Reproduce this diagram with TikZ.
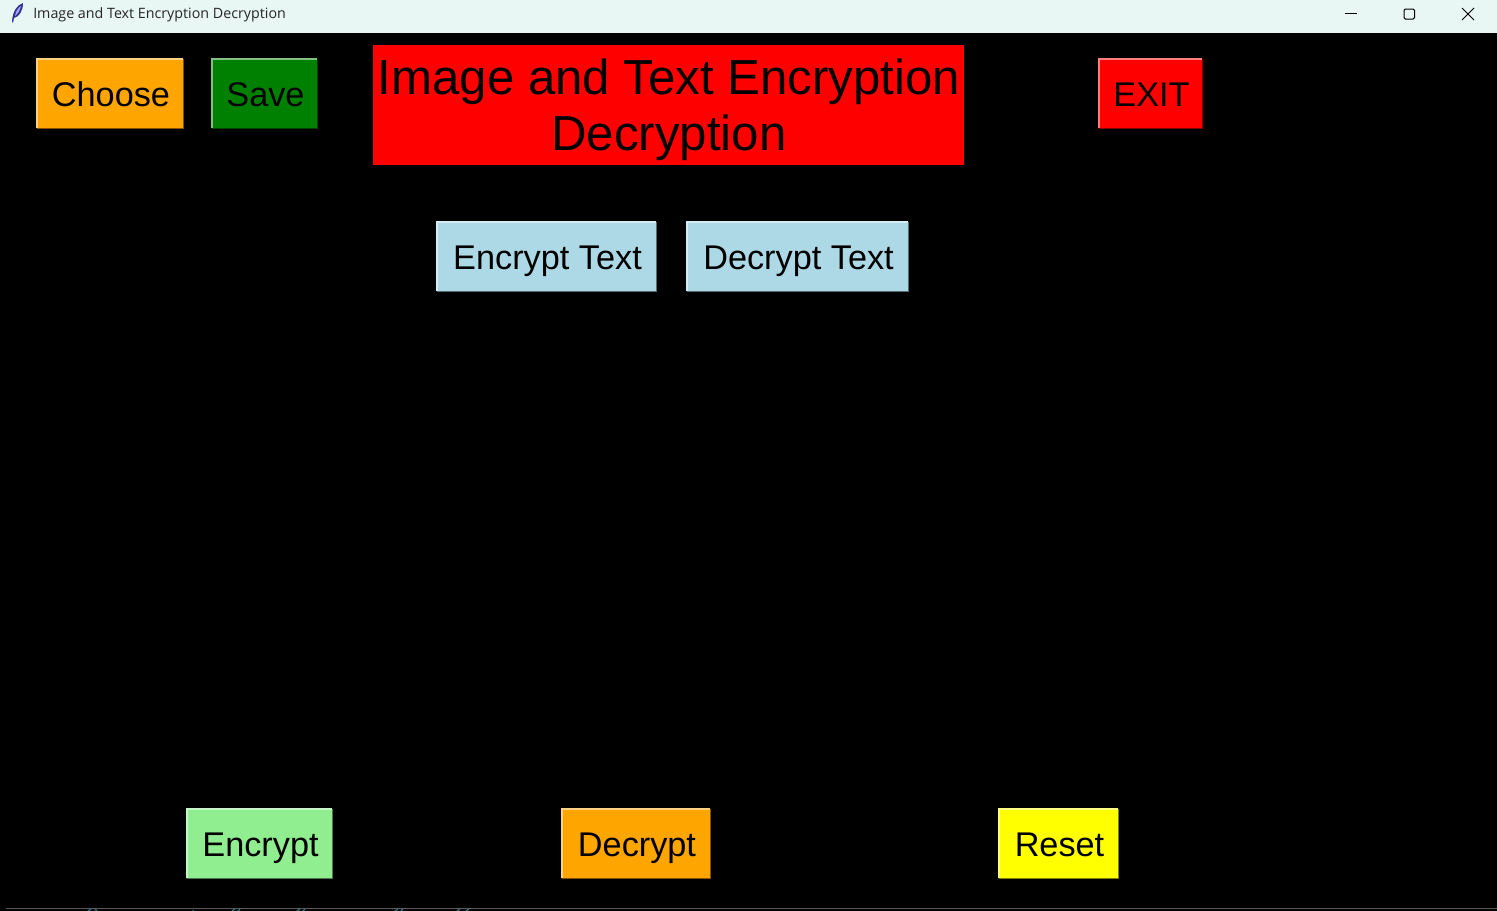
\documentclass[tikz,border=0pt]{standalone}
\usepackage{fontspec}
\setmainfont{Liberation Sans}
\newfontfamily\barfont{Open Sans}
\definecolor{barcol}{HTML}{E8F6F4}
\definecolor{btnorange}{HTML}{FFA500}
\definecolor{btngreen}{HTML}{008000}
\definecolor{btnblue}{HTML}{ADD8E6}
\definecolor{btnlime}{HTML}{90EE90}
\definecolor{btnyellow}{HTML}{FFFF00}
\definecolor{clipcol}{HTML}{1E7F9C}
\tikzset{
    btn/.style={inner sep=0pt, minimum height=51.75pt, text height=23.5pt, text depth=4pt, text=black, font=\fontsize{25.7}{30}\selectfont, execute at begin node=\hspace*{1.5pt}},
    winicon/.style={draw=black, line width=0.75pt},
}

\begin{document}
\begin{tikzpicture}[x=0.75pt,y=-0.75pt]
    \useasboundingbox (0,0) rectangle (1497,911);
    \fill[black] (0,0) rectangle (1497,911);

    % title bar
    \fill[barcol] (0,0) rectangle (1497,33);
    \node[anchor=west, inner sep=0pt, text=black!85, font=\barfont\fontsize{10.7}{13}\selectfont] (wintitle) at (33,14.5) {Image and Text Encryption Decryption};
    \fill[black!55!blue!80!white] (12,21) .. controls (13,11) and (17,5) .. (23,3) .. controls (23,11) and (19,17) .. (14,18) -- (13,23) -- cycle;
    \fill[blue!35!white] (15,16) .. controls (16,11) and (18,8) .. (21,6) .. controls (20,10) and (18,14) .. (15,16) -- cycle;
    \draw[winicon] (1345,13.5) -- (1357,13.5);
    \draw[winicon, rounded corners=1pt] (1404,9) rectangle (1414.5,19);
    \draw[winicon] (1462,8) -- (1474,20) (1474,8) -- (1462,20);

    % buttons
    \node[btn, fill=btnorange, minimum width=109.5pt] (choose) at (110,93.5) {Choose};
    \node[btn, fill=btngreen, minimum width=78.75pt] (save) at (264.5,93.5) {Save};
    \node[btn, fill=red, minimum width=77.25pt] (exit) at (1150.5,93.5) {EXIT};
    \node[btn, fill=btnblue, minimum width=164.25pt] (enctext) at (546.5,256.5) {Encrypt Text};
    \node[btn, fill=btnblue, minimum width=165.75pt] (dectext) at (797.5,256.5) {Decrypt Text};
    \node[btn, fill=btnlime, minimum width=108.75pt] (encrypt) at (259.5,843.5) {Encrypt};
    \node[btn, fill=btnorange, minimum width=111pt] (decrypt) at (636,843.5) {Decrypt};
    \node[btn, fill=btnyellow, minimum width=89.25pt] (reset) at (1058.5,843.5) {Reset};

    \foreach \b/\c in {choose/btnorange, save/btngreen, exit/red, enctext/btnblue, dectext/btnblue, encrypt/btnlime, decrypt/btnorange, reset/btnyellow}{
        \draw[\c!50!black, line width=0.75pt] (\b.south west) -- (\b.south east) -- (\b.north east);
        \draw[\c!50!white, line width=1.5pt] (\b.south west) -- (\b.north west) -- (\b.north east);
    }

    % heading
    \fill[red] (373,45) rectangle (964,165);
    \node[inner sep=0pt, align=center, text=black, font=\fontsize{36.9}{42}\selectfont] (heading) at (669,110) {Image and Text Encryption\\Decryption};

    % bottom edge of the window
    \draw[black!65, line width=1pt] (6,908.5) -- (1497,908.5);
    \draw[clipcol, line width=0.9pt] (88,911) -- (91,909) (97,911) -- (95,909) (193,910) -- (193,911) (232,911) -- (235,909) (240,909) -- (238,911) (297,911) -- (300,909) (305,909) -- (303,911) (395,911) -- (398,909) (403,909) -- (401,911) (457,911) -- (460,909) (469,909) -- (466,911);
\end{tikzpicture}
\end{document}
